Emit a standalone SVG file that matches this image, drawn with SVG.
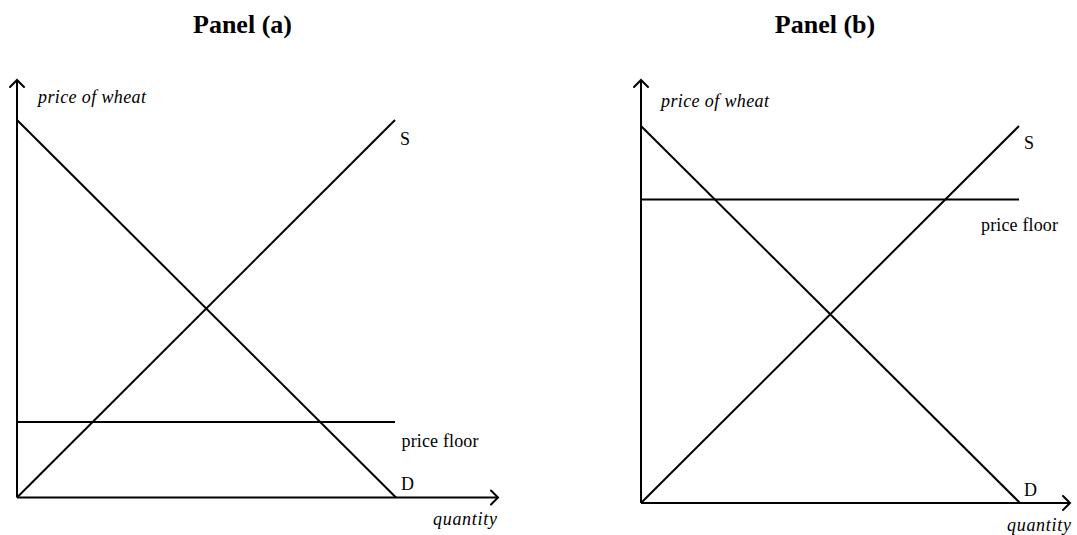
<svg xmlns="http://www.w3.org/2000/svg" width="1077" height="535" viewBox="0 0 1077 535">
<style>
.ln{stroke:#000;stroke-width:2;fill:none}
.ar{stroke:#000;stroke-width:2;fill:none;stroke-linecap:round;stroke-linejoin:miter}
.t{font-family:"Liberation Serif","Times New Roman",serif;font-size:18px;fill:#000}
.it{font-family:"Liberation Serif","Times New Roman",serif;font-size:18px;font-style:italic;fill:#000}
.ti{font-family:"Liberation Serif","Times New Roman",serif;font-size:26px;font-weight:bold;fill:#000}
</style>
<rect width="1077" height="535" fill="#fff"/>
<g id="panel-a">
  <text class="ti" x="242.5" y="32.5" text-anchor="middle">Panel (a)</text>
  <g id="axes-a">
    <path class="ln" d="M17 497.5 V81 M17 497.5 H497"/>
    <path class="ar" d="M10 87 L17 80 L24 87 M491 490.5 L498 497.5 L491 504.5"/>
    <text class="it" x="38" y="103" textLength="108" lengthAdjust="spacing">price of wheat</text>
    <text class="it" x="433" y="525" textLength="64" lengthAdjust="spacing">quantity</text>
  </g>
  <g id="demand-a">
    <line class="ln" x1="17" y1="120" x2="396" y2="497.5"/>
    <text class="t" x="401" y="490">D</text>
  </g>
  <g id="supply-a">
    <line class="ln" x1="17" y1="497.5" x2="395" y2="120"/>
    <text class="t" x="400" y="145">S</text>
  </g>
  <g id="floor-a">
    <line class="ln" x1="17" y1="422" x2="395" y2="422"/>
    <text class="t" x="401.5" y="446.5" textLength="77" lengthAdjust="spacing">price floor</text>
  </g>
</g>
<g id="panel-b">
  <text class="ti" x="825" y="32.5" text-anchor="middle">Panel (b)</text>
  <g id="axes-b">
    <path class="ln" d="M641 503 V81 M641 503 H1069"/>
    <path class="ar" d="M634 87 L641 80 L648 87 M1063 496 L1070 503 L1063 510"/>
    <text class="it" x="661" y="107" textLength="108" lengthAdjust="spacing">price of wheat</text>
    <text class="it" x="1007" y="531" textLength="64" lengthAdjust="spacing">quantity</text>
  </g>
  <g id="demand-b">
    <line class="ln" x1="641" y1="126" x2="1020" y2="503"/>
    <text class="t" x="1024" y="496">D</text>
  </g>
  <g id="supply-b">
    <line class="ln" x1="641" y1="503" x2="1019" y2="126"/>
    <text class="t" x="1024" y="149">S</text>
  </g>
  <g id="floor-b">
    <line class="ln" x1="641" y1="199.5" x2="1019" y2="199.5"/>
    <text class="t" x="981" y="231" textLength="77" lengthAdjust="spacing">price floor</text>
  </g>
</g>
</svg>
